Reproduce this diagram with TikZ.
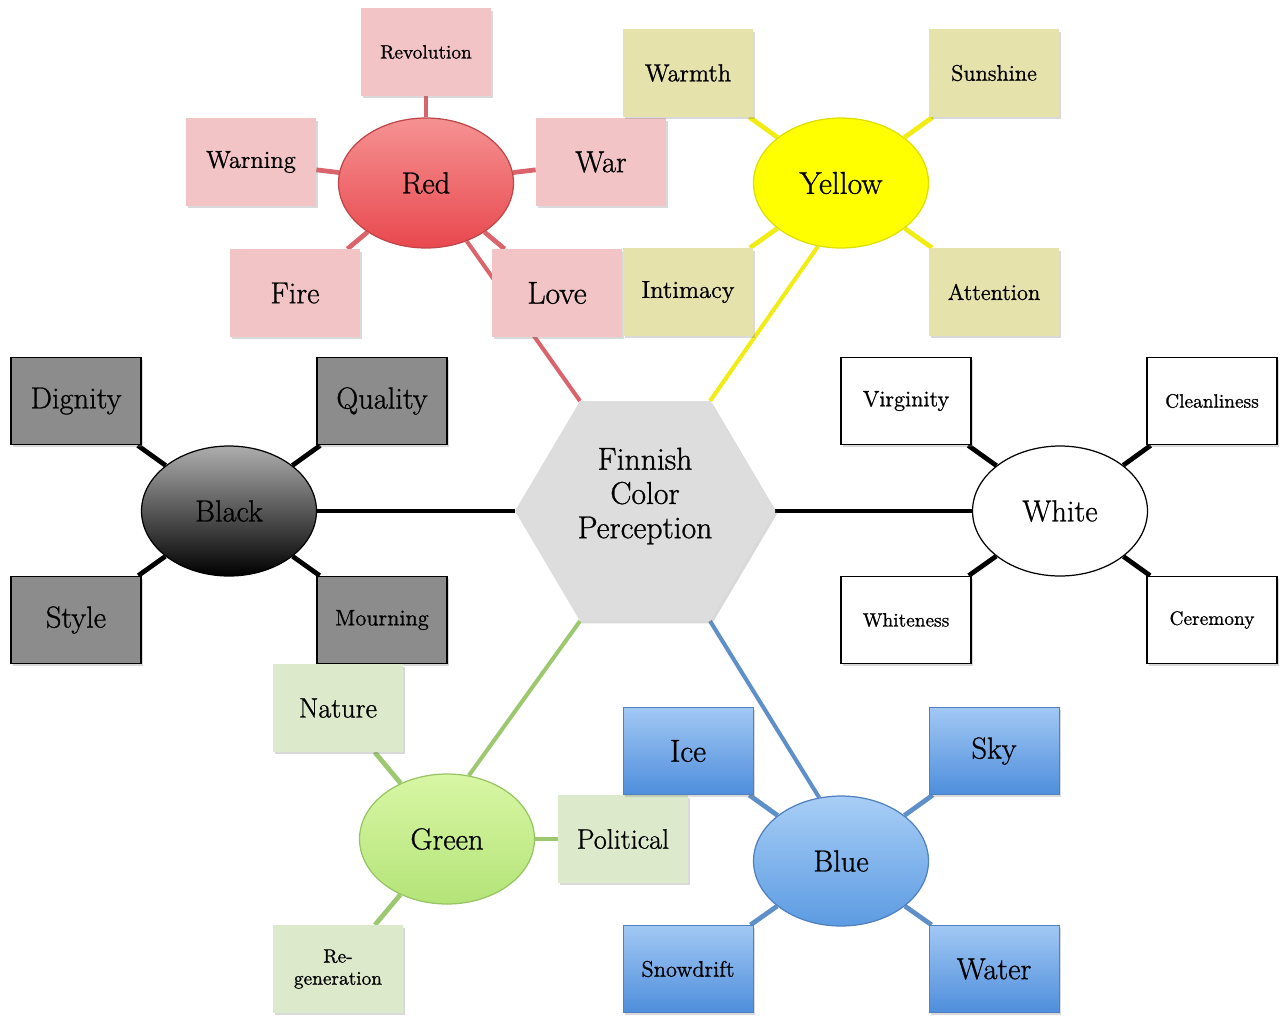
\documentclass[tikz,border=0pt]{standalone}
\usepackage{fontspec}
\setmainfont{Latin Modern Roman}[FakeBold=0.9]
\usetikzlibrary{shapes.geometric,shadows}

\definecolor{pinkbox}{RGB}{242,196,198}
\definecolor{redline}{RGB}{217,100,108}
\definecolor{redtop}{RGB}{246,146,146}
\definecolor{redbot}{RGB}{232,72,78}
\definecolor{rededge}{RGB}{190,70,72}
\definecolor{yelbox}{RGB}{230,226,172}
\definecolor{yelfill}{RGB}{255,255,0}
\definecolor{yeledge}{RGB}{222,222,0}
\definecolor{yelline}{RGB}{240,236,20}
\definecolor{graybox}{RGB}{140,140,140}
\definecolor{greenbox}{RGB}{220,233,202}
\definecolor{greentop}{RGB}{216,246,164}
\definecolor{greenbot}{RGB}{180,228,120}
\definecolor{greenedge}{RGB}{150,196,98}
\definecolor{greenline}{RGB}{157,200,112}
\definecolor{bluetop}{RGB}{168,206,246}
\definecolor{bluebot}{RGB}{92,155,226}
\definecolor{blueedge}{RGB}{80,128,190}
\definecolor{blueline}{RGB}{94,143,200}
\definecolor{blueboxtop}{RGB}{162,200,244}
\definecolor{blueboxbot}{RGB}{78,142,220}
\definecolor{hexgray}{RGB}{221,221,221}

\pgfdeclarelayer{bg}
\pgfsetlayers{bg,main}

\begin{document}
\begin{tikzpicture}[x=0.02cm,y=-0.02cm,
  shade/.style={drop shadow={opacity=0.3,shadow xshift=1.3pt,shadow yshift=-1.3pt}},
  box/.style={rectangle,minimum width=2.6cm,minimum height=1.75cm,inner sep=2pt,
    align=center,text=black,shade},
  hub/.style={ellipse,minimum width=3.5cm,minimum height=2.6cm,inner sep=0pt,
    text=black,line width=0.7pt},
  fA/.style={font=\fontsize{18}{19.5}\selectfont},
  fB/.style={font=\fontsize{17.3}{19.5}\selectfont},
  fC/.style={font=\fontsize{16}{18}\selectfont},
  fD/.style={font=\fontsize{14}{16}\selectfont},
  fE/.style={font=\fontsize{12.8}{14.5}\selectfont},
  fF/.style={font=\fontsize{11}{12.6}\selectfont},
  redbox/.style={box,fill=pinkbox},
  yelbx/.style={box,fill=yelbox},
  blackbx/.style={box,fill=graybox,draw=black,line width=0.8pt},
  whitebx/.style={box,fill=white,draw=black,line width=0.8pt},
  greenbx/.style={box,fill=greenbox},
  bluebx/.style={box,top color=blueboxtop,bottom color=blueboxbot,draw=blueedge,line width=0.4pt},
  spoke/.style={line width=2.7pt},
  link/.style={line width=2.3pt}]

\useasboundingbox (0,0) rectangle (1287,1015);

% central hexagon
\coordinate (hA) at (580,401);
\coordinate (hB) at (710,401);
\coordinate (hC) at (775,511);
\coordinate (hD) at (710,621);
\coordinate (hE) at (580,621);
\coordinate (hF) at (515,511);
\path[fill=hexgray,shade] (hA) -- (hB) -- (hC) -- (hD) -- (hE) -- (hF) -- cycle;
\node[fA,align=center,text=black] (hex) at (645,496) {Finnish\\Color\\Perception};

% red cluster
\node[hub,fB,draw=rededge,top color=redtop,bottom color=redbot] (red) at (426,183) {Red};
\node[redbox,fF] (revolution) at (426,52) {Revolution};
\node[redbox,fD] (warning) at (251,162) {Warning};
\node[redbox,fB] (war) at (601,162) {War};
\node[redbox,fB] (fire) at (295,293) {Fire};
\node[redbox,fA] (love) at (557,293) {Love};

% yellow cluster
\node[hub,fA,draw=yeledge,fill=yelfill] (yellow) at (841,183) {Yellow};
\node[yelbx,fD] (warmth) at (688,73) {Warmth};
\node[yelbx,fE] (sunshine) at (994,73) {Sunshine};
\node[yelbx,fD] (intimacy) at (688,292) {Intimacy};
\node[yelbx,fE] (attention) at (994,292) {Attention};

% black cluster
\node[hub,fB,draw=black,top color=black!32,bottom color=black] (black) at (229,511) {Black};
\node[blackbx,fB] (dignity) at (76,401) {Dignity};
\node[blackbx,fB] (quality) at (382,401) {Quality};
\node[blackbx,fB] (style) at (76,620) {Style};
\node[blackbx,fE] (mourning) at (382,620) {Mourning};

% white cluster
\node[hub,fB,draw=black,fill=white] (white) at (1060,511) {White};
\node[whitebx,fE] (virginity) at (906,401) {Virginity};
\node[whitebx,fF] (cleanliness) at (1212,401) {Cleanliness};
\node[whitebx,fF] (whiteness) at (906,620) {Whiteness};
\node[whitebx,fF] (ceremony) at (1212,620) {Ceremony};

% green cluster
\node[hub,fB,draw=greenedge,top color=greentop,bottom color=greenbot] (green) at (447,839) {Green};
\node[greenbx,fC] (nature) at (338,708) {Nature};
\node[greenbx,fC] (political) at (623,839) {Political};
\node[greenbx,fF] (regeneration) at (338,969) {Re-\\generation};

% blue cluster
\node[hub,fB,draw=blueedge,top color=bluetop,bottom color=bluebot] (blue) at (841,861) {Blue};
\node[bluebx,fA] (ice) at (688,751) {Ice};
\node[bluebx,fB] (sky) at (994,751) {Sky};
\node[bluebx,fE] (snowdrift) at (688,969) {Snowdrift};
\node[bluebx,fB] (water) at (994,969) {Water};

\begin{pgfonlayer}{bg}
  % links from the hexagon to each colour
  \draw[link,redline] (hA) -- (red.305);
  \draw[link,yelline] (hB) -- (yellow.250);
  \draw[link,black] (hF) -- (black.east);
  \draw[link,black] (hC) -- (white.west);
  \draw[link,greenline] (hE) -- (green.71);
  \draw[link,blueline] (hD) -- (blue.109);
  % spokes to the associations
  \foreach \t in {revolution,warning,war,fire,love}
    \draw[spoke,redline] (red) -- (\t);
  \foreach \t in {warmth,sunshine,intimacy,attention}
    \draw[spoke,yelline] (yellow) -- (\t);
  \foreach \t in {dignity,quality,style,mourning}
    \draw[spoke,black] (black) -- (\t);
  \foreach \t in {virginity,cleanliness,whiteness,ceremony}
    \draw[spoke,black] (white) -- (\t);
  \foreach \t in {nature,political,regeneration}
    \draw[spoke,greenline] (green) -- (\t);
  \foreach \t in {ice,sky,snowdrift,water}
    \draw[spoke,blueline] (blue) -- (\t);
\end{pgfonlayer}
\end{tikzpicture}
\end{document}
